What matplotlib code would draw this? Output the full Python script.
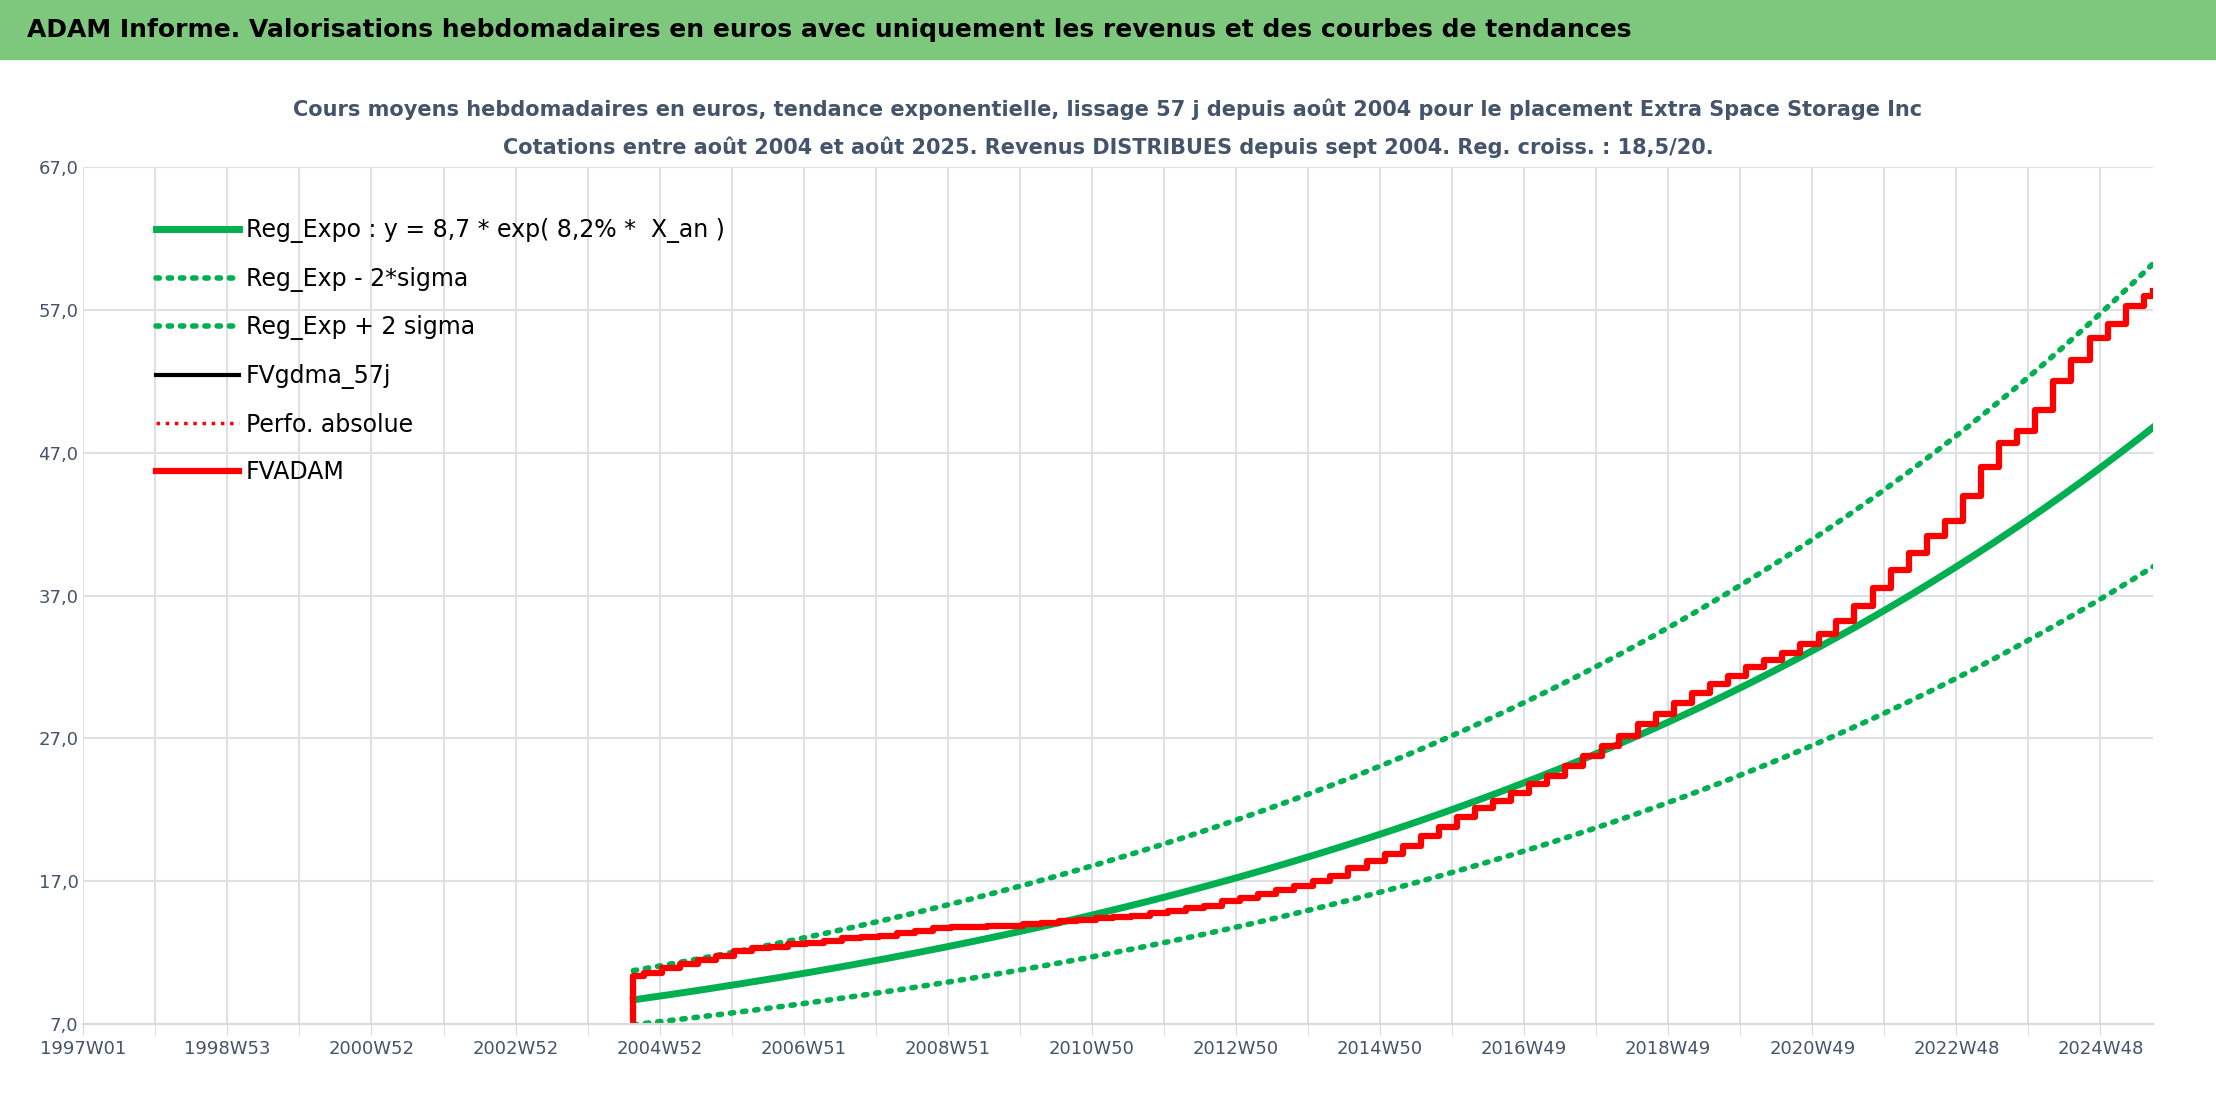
import matplotlib
matplotlib.use("Agg")
import matplotlib.pyplot as plt
import numpy as np
import datetime as dt

plt.rcParams['font.family'] = ['Liberation Sans Narrow', 'DejaVu Sans']

# --- data ---
origin = dt.date(1996, 12, 30)   # 1997W01
n_weeks = 1494                   # jusqu'a aout 2025
start_date = dt.date(2004, 8, 9)
end_date = dt.date(2025, 8, 18)

reg_a = 8.7          # Reg_Expo : y = 8,7 * exp(8,2% * X_an)
reg_rate = 0.082
sigma_up = 1.235     # facteur bande + 2 sigma
sigma_dn = 0.80      # facteur bande - 2 sigma

# FVADAM, valeurs trimestrielles lues (2004T3 -> 2025T3)
fvadam_q = [10.4, 10.6,
            10.9, 11.2, 11.5, 11.8,
            12.1, 12.3, 12.4, 12.6,
            12.7, 12.8, 13.0, 13.1,
            13.2, 13.4, 13.5, 13.7,
            13.8, 13.8, 13.9, 13.9,
            14.0, 14.1, 14.2, 14.3,
            14.4, 14.5, 14.6, 14.8,
            14.9, 15.1, 15.3, 15.6,
            15.8, 16.1, 16.4, 16.7,
            17.0, 17.4, 17.9, 18.4,
            18.9, 19.5, 20.2, 20.8,
            21.5, 22.1, 22.6, 23.2,
            23.8, 24.4, 25.1, 25.8,
            26.5, 27.2, 28.0, 28.7,
            29.5, 30.2, 30.8, 31.4,
            32.0, 32.5, 33.0, 33.6,
            34.3, 35.2, 36.3, 37.5,
            38.8, 40.0, 41.2, 42.2,
            44.0, 46.0, 47.7, 48.5,
            50.0, 52.0, 53.5, 55.0,
            56.0, 57.3, 58.0, 58.3]

def widx(d):
    return (d - origin).days / 7.0

# quarter positions
q_dates = []
y, m = 2004, 7
for _ in fvadam_q:
    q_dates.append(dt.date(y, m, 1))
    m += 3
    if m > 12:
        m -= 12
        y += 1
qx = [max(widx(start_date), widx(d)) for d in q_dates]
qx[-1] = widx(end_date)

x0 = widx(start_date)
xt = np.arange(x0, widx(end_date) + 1)
years = (xt - x0) / 52.18
reg = reg_a * np.exp(reg_rate * years)

# tick labels (ISO weeks)
lab_pos = np.arange(0, n_weeks, 104)
lab_txt = []
for p in lab_pos:
    iy, iw, _ = (origin + dt.timedelta(weeks=int(p))).isocalendar()
    lab_txt.append(f"{iy}W{iw:02d}")

# --- figure ---
fig = plt.figure(figsize=(22.16, 11.06), dpi=100)
fig.patches.append(plt.Rectangle((0, 0.947), 1, 0.053, transform=fig.transFigure,
                                 color='#7ec87e', zorder=0))
fig.text(0.012, 0.973, "ADAM Informe. Valorisations hebdomadaires en euros avec uniquement les revenus et des courbes de tendances",
         fontsize=18, fontweight='bold', va='center', ha='left', color='black')
fig.text(0.5, 0.901, "Cours moyens hebdomadaires en euros, tendance exponentielle, lissage 57 j depuis août 2004 pour le placement Extra Space Storage Inc",
         fontsize=15, fontweight='bold', ha='center', va='center', color='#44546a')
fig.text(0.5, 0.867, "Cotations entre août 2004 et août 2025. Revenus DISTRIBUES depuis sept 2004. Reg. croiss. : 18,5/20.",
         fontsize=15, fontweight='bold', ha='center', va='center', color='#44546a')

ax = fig.add_axes([0.0376, 0.074, 0.934, 0.775])
ax.plot(xt, reg, color='#00b050', lw=5, label="Reg_Expo : y = 8,7 * exp( 8,2% *  X_an )")
ax.plot(xt, reg * sigma_dn, color='#00b050', lw=4, ls=(0, (0.6, 1.6)), dash_capstyle='round',
        label="Reg_Exp - 2*sigma")
ax.plot(xt, reg * sigma_up, color='#00b050', lw=4, ls=(0, (0.6, 1.6)), dash_capstyle='round',
        label="Reg_Exp + 2 sigma")
fx = [x0] + qx
fy = [7.0] + fvadam_q
ax.plot(fx, fy, color='black', lw=3, drawstyle='steps-post', label="FVgdma_57j")
ax.plot([], [], color='red', lw=2.5, ls=':', label="Perfo. absolue")
ax.plot(fx, fy, color='red', lw=4.5, drawstyle='steps-post', label="FVADAM")

ax.set_xlim(0, n_weeks)
ax.set_ylim(7, 67)
ax.set_yticks(np.arange(7, 68, 10))
ax.set_yticklabels([f"{v:.1f}".replace('.', ',') for v in np.arange(7, 68, 10)])
ax.set_xticks(np.arange(0, n_weeks, 52), minor=True)
ax.set_xticks(lab_pos)
ax.set_xticklabels(lab_txt)
ax.grid(True, which='both', axis='x', color='#dde1e6', lw=1.5)
ax.grid(True, axis='y', color='#dde1e6', lw=1.5)
ax.set_axisbelow(True)
for s in ['top', 'right', 'left']:
    ax.spines[s].set_visible(False)
ax.spines['bottom'].set_color('#d9d9d9')
ax.spines['bottom'].set_linewidth(1.5)
ax.tick_params(axis='y', length=0, labelsize=13, colors='#44546a')
ax.tick_params(axis='x', which='both', length=8, color='#d9d9d9', labelsize=13, labelcolor='#44546a')
leg = ax.legend(loc='upper left', bbox_to_anchor=(0.025, 0.965), frameon=False, fontsize=17,
                handlelength=3.5, labelspacing=1.0, handletextpad=0.3)
fig.savefig("out.png", dpi=100)
